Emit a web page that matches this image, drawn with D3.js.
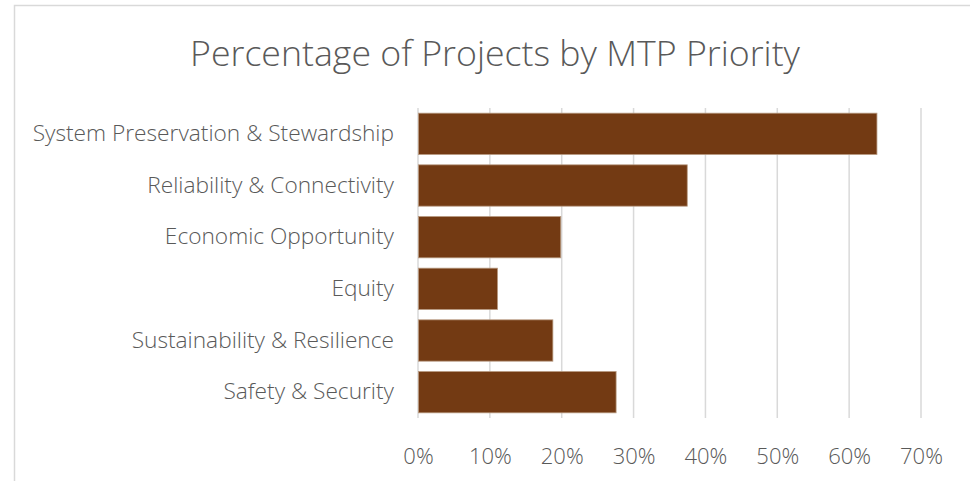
<!DOCTYPE html>
<html>
<head>
<meta charset="utf-8">
<script src="https://cdn.jsdelivr.net/npm/d3@7"></script>
<style>
  body { margin: 0; background: #fff; }
  text { font-family: "Open Sans", "Noto Sans", sans-serif; fill: #595959; }
</style>
</head>
<body>
<div id="chart"></div>
<script>
var categories = ["System Preservation & Stewardship", "Reliability & Connectivity", "Economic Opportunity",
    "Equity", "Sustainability & Resilience", "Safety & Security"]
var percents = [0.638, 0.374, 0.198, 0.110, 0.187, 0.275]
var ticks = [0, 0.1, 0.2, 0.3, 0.4, 0.5, 0.6, 0.7]

var width = 970, height = 481
var margin = {top: 108, left: 418, right: 49, bottom: 63}

var svg = d3.select("#chart")
    .append("svg")
    .attr("width", width)
    .attr("height", height)

// chart border (only top and left are inside the window)
svg.append("path")
    .attr("d", "M14.5,481 V5.5 H970")
    .attr("fill", "none")
    .attr("stroke", "#d9d9d9")
    .attr("stroke-width", 1.5)

svg.append("text")
    .attr("x", 495)
    .attr("y", 66)
    .attr("text-anchor", "middle")
    .style("font-size", "35.7px")
    .style("font-weight", 300)
    .text("Percentage of Projects by MTP Priority")

const x = d3.scaleLinear()
    .domain([0, 0.7])
    .range([margin.left, width - margin.right])

const y = d3.scaleBand()
    .domain(categories)
    .range([margin.top, height - margin.bottom])
    .paddingInner(0.2)
    .paddingOuter(0.1)

// gridlines
svg.append("g")
    .selectAll("line")
    .data(ticks)
    .join("line")
    .attr("x1", d => x(d))
    .attr("x2", d => x(d))
    .attr("y1", margin.top)
    .attr("y2", height - margin.bottom)
    .attr("stroke", "#d9d9d9")
    .attr("stroke-width", 1.5)

// bars
svg.append("g")
    .selectAll("rect")
    .data(percents)
    .join("rect")
    .attr("x", x(0) + 0.5)
    .attr("y", (d, i) => y(categories[i]))
    .attr("width", d => x(d) - x(0))
    .attr("height", y.bandwidth())
    .attr("fill", "#733a13")
    .attr("stroke", "#b89a80")
    .attr("stroke-width", 0.8)

// x axis labels
const xAxis = svg.append("g")
    .attr("transform", `translate(0, ${height - margin.bottom})`)
    .call(d3.axisBottom(x).tickValues(ticks).tickFormat(d3.format(".0%")).tickSize(0).tickPadding(30))
xAxis.select(".domain").remove()
xAxis.selectAll("text")
    .style("font-size", "22px")
    .style("font-weight", 300)
    .style("font-family", null)
    .attr("fill", "#595959")

// y axis labels
const yAxis = svg.append("g")
    .attr("transform", `translate(${margin.left}, 0)`)
    .call(d3.axisLeft(y).tickSize(0).tickPadding(24))
yAxis.select(".domain").remove()
yAxis.selectAll("text")
    .style("font-size", "22.7px")
    .style("font-weight", 300)
    .style("font-family", null)
    .attr("fill", "#595959")
</script>
</body>
</html>
